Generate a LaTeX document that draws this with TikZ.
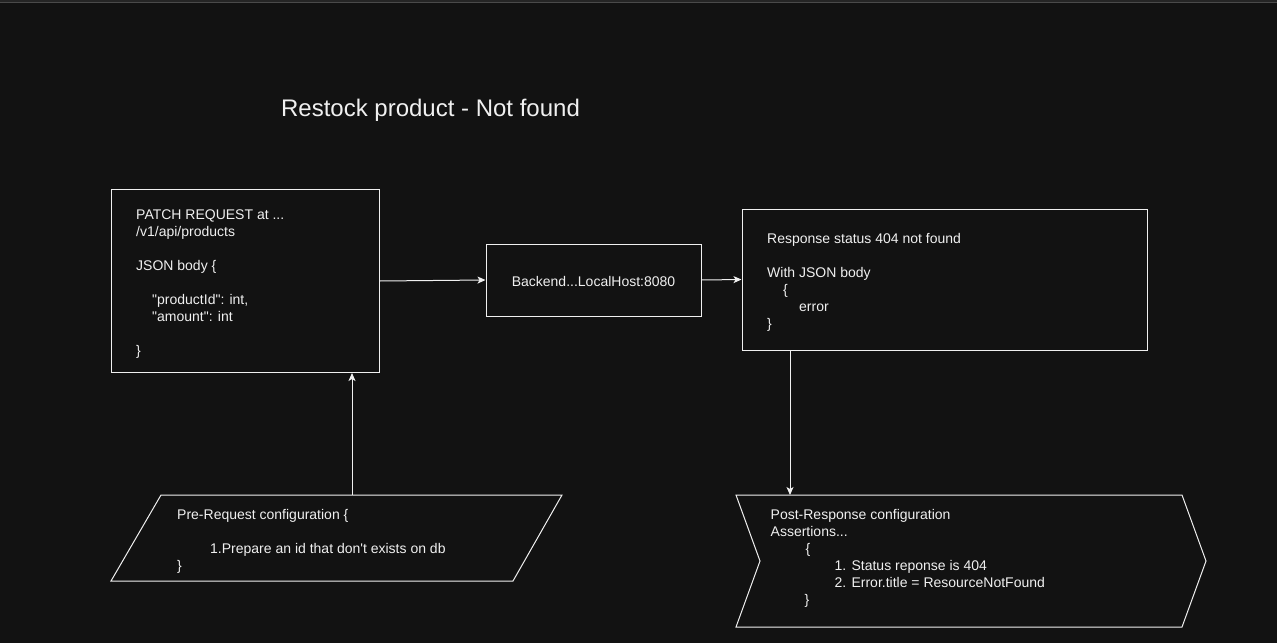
\documentclass[tikz,border=0pt]{standalone}
\usepackage{fontspec}
\setmainfont{Liberation Sans}[Ligatures=TeXOff]
\usetikzlibrary{arrows.meta}
\definecolor{bg}{HTML}{121212}
\definecolor{fg}{HTML}{F0F0F0}
\definecolor{topband}{HTML}{252525}
\definecolor{topline}{HTML}{4A4A4A}
\tikzset{
  shapeline/.style={draw=fg, line width=1pt},
  box/.style={shapeline, rectangle, inner sep=0pt, fill=bg},
  txt/.style={text=fg, inner sep=0pt, align=left, anchor=west, font=\fontsize{14}{17}\selectfont},
  conn/.style={draw=fg, line width=1pt, -{Stealth[length=8pt,width=7pt,inset=2pt]}},
}
\begin{document}
\begin{tikzpicture}[x=1pt,y=-1pt]
\useasboundingbox (0,0) rectangle (1277,643);
\fill[bg] (0,0) rectangle (1277,643);
\fill[topband] (0,0) rectangle (1277,2.5);
\draw[topline, line width=0.8pt] (0,2.6) -- (1277,2.6);

% title
\node[text=fg, inner sep=0pt, font=\fontsize{24}{29}\selectfont] (title) at (430.5,110.5) {Restock product - Not found};

% boxes
\node[box, minimum width=268pt, minimum height=183pt] (req) at (245,281) {};
\node[txt] (reqtxt) at (136,284.5) {\strut PATCH REQUEST at ...\\
\strut /v1/api/products\\
\strut\\
\strut JSON body \{\\
\strut\\
\strut\hspace*{16pt}"productId": int,\\
\strut\hspace*{16pt}"amount": int\\
\strut\\
\strut \}};

\node[box, minimum width=215pt, minimum height=72pt] (backend) at (593.5,280) {};
\node[text=fg, inner sep=0pt, font=\fontsize{14}{17}\selectfont] (backendtxt) at (593.5,281.5) {Backend...LocalHost:8080};

\node[box, minimum width=405pt, minimum height=141pt] (resp) at (944.5,279.5) {};
\node[txt] (resptxt) at (767,283) {\strut Response status 404 not found\\
\strut\\
\strut With JSON body\\
\strut\hspace*{16pt}\{\\
\strut\hspace*{32pt}error\\
\strut \}};

% pre-request parallelogram
\draw[shapeline, fill=bg] (161,495) -- (562,495) -- (513,581) -- (111,581) -- cycle;
\coordinate (pretop) at (352,495);
\node[txt] (pretxt) at (177,541.5) {\strut Pre-Request configuration \{\\
\strut\\
\strut\hspace*{33pt}1.Prepare an id that don't exists on db\\
\strut \}};

% post-response step
\draw[shapeline, fill=bg] (736,495) -- (1182,495) -- (1206,561) -- (1182,627) -- (736,627) -- (760,561) -- cycle;
\coordinate (posttop) at (790,495);
\node[txt] (posttxt) at (770.5,559) {\strut Post-Response configuration\\
\strut Assertions...\\
\strut\hspace*{35pt}\{\\
\strut\hspace*{64pt}1. Status reponse is 404\\
\strut\hspace*{64pt}2. Error.title = ResourceNotFound\\
\strut\hspace*{34pt}\}};

% connectors
\draw[conn] (req.east) -- (backend.west);
\draw[conn] (backend.east) -- (resp.west);
\draw[conn] (posttop |- resp.south) -- (posttop);
\draw[conn] (pretop) -- (pretop |- req.south);
\end{tikzpicture}
\end{document}
